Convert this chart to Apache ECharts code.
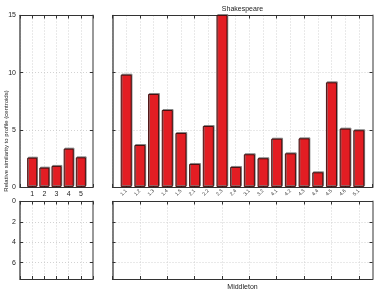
<!DOCTYPE html>
<html><head><meta charset="utf-8">
<script src="https://cdn.jsdelivr.net/npm/echarts@6/dist/echarts.min.js"></script>
<style>html,body{margin:0;padding:0;background:#fff}#c{width:392px;height:294px}</style>
</head><body><div id="c"></div>
<script>
const leftCats = ['1','2','3','4','5'];
const leftVals = [2.56, 1.69, 1.84, 3.35, 2.59];
const rightCats = ['1.1','1.2','1.3','1.4','1.5','2.1','2.2','2.3','2.4','3.1','3.2','4.1','4.2','4.3','4.4','4.5','4.6','5.1'];
const rightVals = [9.82, 3.67, 8.13, 6.73, 4.72, 2.01, 5.33, 15.4, 1.75, 2.86, 2.51, 4.22, 2.94, 4.25, 1.28, 9.15, 5.10, 4.96];
const topMax = 15, topInterval = 5;
const botMax = 7.6, botInterval = 2;
const titleTop = 'Shakespeare';
const titleBottom = 'Middleton';
const yName = 'Relative similarity to profile (centroids)';

const FONT = 'Liberation Sans';
const pad = a => ['', ...a, ''];
const grids = [
  {left: 20, top: 15.5, width: 73, height: 171.5},
  {left: 112.5, top: 15.5, width: 260, height: 171.5},
  {left: 20, top: 201.5, width: 73, height: 77.5},
  {left: 112.5, top: 201.5, width: 260, height: 77.5}
];
const xAxes = [], yAxes = [];
grids.forEach((g, i) => {
  const cats = pad(i % 2 === 0 ? leftCats : rightCats);
  const isTop = i < 2;
  xAxes.push({
    type: 'category', gridIndex: i, data: cats, boundaryGap: false, position: 'bottom',
    axisLine: {onZero: false, lineStyle: {color: '#333', width: 1.2}},
    axisTick: {show: true, inside: true, length: 3, lineStyle: {color: '#333'}},
    axisLabel: isTop ? (i === 0 ?
      {fontSize: 7, color: '#222', fontFamily: FONT, margin: 4} :
      {fontSize: 5, color: '#333', fontFamily: FONT, rotate: 45, margin: 3}) : {show: false},
    splitLine: {show: true, lineStyle: {color: '#c8c8c8', type: [1, 2], width: 0.8}}
  });
  xAxes.push({
    type: 'category', gridIndex: i, data: cats, boundaryGap: false, position: 'top',
    axisLine: {onZero: false, lineStyle: {color: '#333', width: 1}},
    axisTick: {show: true, inside: true, length: 3, lineStyle: {color: '#333'}},
    axisLabel: {show: false}, splitLine: {show: false}
  });
  const yBase = isTop ?
    {min: 0, max: topMax, interval: topInterval, inverse: false} :
    {min: 0, max: botMax, interval: botInterval, inverse: true};
  yAxes.push(Object.assign({
    type: 'value', gridIndex: i, position: 'left',
    axisLine: {show: true, onZero: false, lineStyle: {color: '#555', width: 1.5}},
    axisTick: {show: true, inside: true, length: 3, lineStyle: {color: '#333'}},
    axisLabel: (i % 2 === 0) ? {fontSize: 7, color: '#222', fontFamily: FONT, margin: 4, showMaxLabel: isTop} : {show: false},
    splitLine: {show: true, lineStyle: {color: '#c8c8c8', type: [1, 2], width: 0.8}}
  }, yBase));
  yAxes.push(Object.assign({
    type: 'value', gridIndex: i, position: 'right',
    axisLine: {show: true, onZero: false, lineStyle: {color: '#999', width: 2}},
    axisTick: {show: true, inside: true, length: 3, lineStyle: {color: '#333'}},
    axisLabel: {show: false}, splitLine: {show: false}
  }, yBase));
});
const barStyle = {
  color: '#e31d23', borderColor: '#3d0808', borderWidth: 0.9,
  shadowColor: 'rgba(120,120,120,0.9)', shadowOffsetX: 0.8, shadowOffsetY: -1, shadowBlur: 0
};
const option = {
  animation: false,
  backgroundColor: '#fff',
  grid: grids.map(g => Object.assign({containLabel: false}, g)),
  xAxis: xAxes,
  yAxis: yAxes,
  series: [
    {type: 'bar', xAxisIndex: 0, yAxisIndex: 0, data: [null, ...leftVals, null], barWidth: '82%', itemStyle: barStyle, clip: true},
    {type: 'bar', xAxisIndex: 2, yAxisIndex: 2, data: [null, ...rightVals, null], barWidth: '80%', itemStyle: barStyle, clip: true}
  ],
  graphic: [
    {type: 'text', x: 242.5, y: 9, style: {text: titleTop, fontSize: 7, fontFamily: FONT, fill: '#222', align: 'center', verticalAlign: 'middle'}},
    {type: 'text', x: 242.5, y: 287, style: {text: titleBottom, fontSize: 7, fontFamily: FONT, fill: '#222', align: 'center', verticalAlign: 'middle'}},
    {type: 'text', x: 6, y: 141, rotation: Math.PI / 2, style: {text: yName, fontSize: 6, fontFamily: FONT, fill: '#222', align: 'center', verticalAlign: 'middle'}}
  ]
};
echarts.init(document.getElementById('c'), null, {renderer: 'canvas'}).setOption(option);
</script>
</body></html>
